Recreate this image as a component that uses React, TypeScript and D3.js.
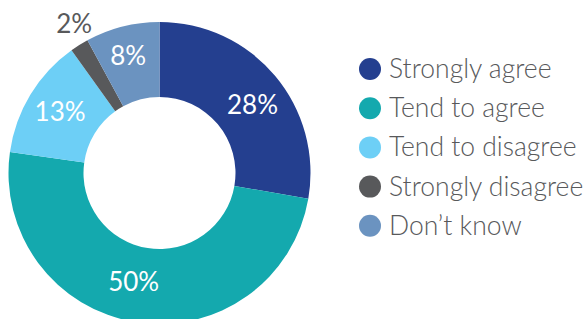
import { useEffect, useRef } from "react";
import * as d3 from "d3";

const categories = ["Strongly agree", "Tend to agree", "Tend to disagree", "Strongly disagree", "Don\u2019t know"];
const values = [28, 50, 13, 2, 8];
const labels = ["28%", "50%", "13%", "2%", "8%"];
const colors = ["#243f8f", "#14a9ae", "#6dcff6", "#58595b", "#6b93c0"];

export default function App() {
  const svgRef = useRef<SVGSVGElement>(null);

  useEffect(() => {
    if (!svgRef.current) return;
    const svg = d3.select(svgRef.current);
    svg.selectAll("*").remove();

    const width = 584;
    const height = 319;
    const cx = 159.5;
    const cy = 173;
    const outer = 151;
    const inner = 76;
    const font = "Lato, 'Open Sans', sans-serif";

    svg.attr("viewBox", `0 0 ${width} ${height}`);

    const pie = d3.pie<number>().sort(null).value((d) => d);
    const arcs = pie(values);
    const arc = d3.arc<d3.PieArcDatum<number>>().innerRadius(inner).outerRadius(outer);
    const labelArc = d3.arc<d3.PieArcDatum<number>>().innerRadius(112).outerRadius(118);
    const outsideArc = d3.arc<d3.PieArcDatum<number>>().innerRadius(168).outerRadius(172);

    const g = svg.append("g").attr("transform", `translate(${cx},${cy})`);

    g.selectAll("path.slice")
      .data(arcs)
      .join("path")
      .attr("class", "slice")
      .attr("d", arc)
      .attr("fill", (_, i) => colors[i]);

    // nudges so the labels sit where the original put them
    const nudge = [[5, 6], [-8, -5], [-1, -2], [5, -5], [-3, -6]];

    g.selectAll("text.pct")
      .data(arcs)
      .join("text")
      .attr("class", "pct")
      .attr("transform", (d, i) => {
        const [x, y] = (values[i] < 5 ? outsideArc : labelArc).centroid(d);
        return `translate(${x + nudge[i][0]},${y + nudge[i][1]})`;
      })
      .attr("text-anchor", "middle")
      .attr("dy", "0.36em")
      .attr("fill", (_, i) => (values[i] < 5 ? "#58595b" : "#ffffff"))
      .attr("font-family", font)
      .attr("font-size", "26px")
      .text((_, i) => labels[i]);

    // legend
    const legend = svg.append("g").attr("transform", "translate(370,69)");
    const rowH = 39.2;
    categories.forEach((name, i) => {
      const row = legend.append("g").attr("transform", `translate(0,${i * rowH})`);
      row.append("circle").attr("r", 11).attr("fill", colors[i]);
      row.append("text")
        .attr("x", 19)
        .attr("dy", "0.34em")
        .attr("fill", "#58595b")
        .attr("font-family", font)
        .attr("font-size", "26.5px")
        .attr("font-weight", 300)
        .text(name);
    });
  }, []);

  return (
    <div style={{ position: "absolute", left: 0, top: 0, background: "#ffffff" }}>
      <svg ref={svgRef} width={584} height={319} style={{ display: "block" }} />
    </div>
  );
}
